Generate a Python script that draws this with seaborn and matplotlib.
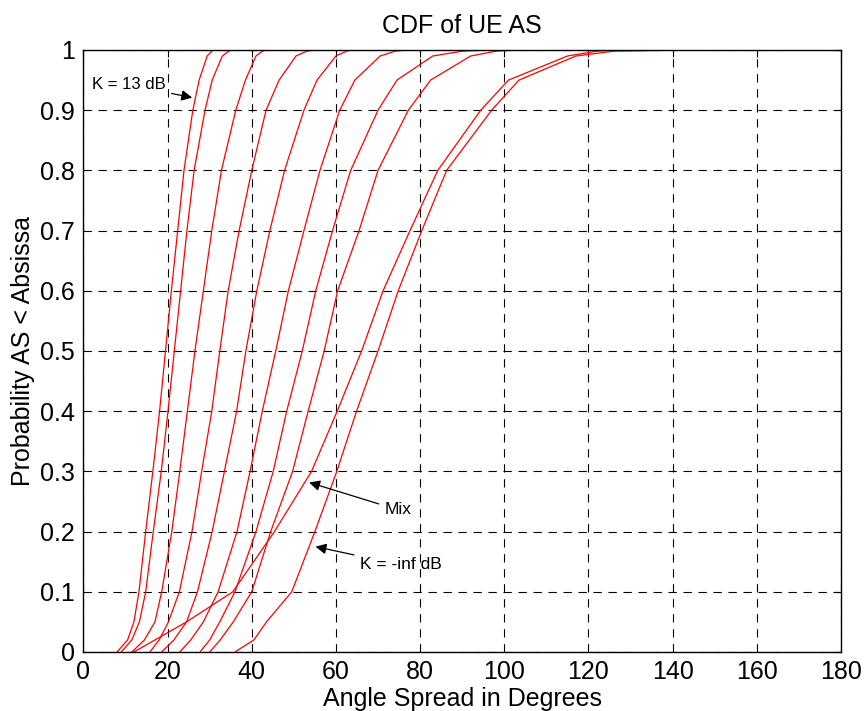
import numpy as np
import pandas as pd
import matplotlib
matplotlib.use("Agg")
import matplotlib.pyplot as plt
import seaborn as sns

levels = [0, 0.02, 0.05, 0.1, 0.2, 0.3, 0.4, 0.5, 0.6, 0.7, 0.8, 0.9, 0.95, 0.99, 0.998, 1.0]

k13 = [8.0, 10.5, 12.0, 13.2, 14.8, 16.5, 18.1, 19.5, 20.9, 22.4, 23.9, 26.0, 27.5, 29.4, 30.5, 31.0]
k2 = [9.0, 11.5, 13.3, 14.8, 16.6, 18.5, 20.1, 21.6, 23.1, 24.6, 26.3, 28.9, 30.6, 33.0, 34.5, 35.5]
k3 = [11.5, 14.5, 17.0, 18.6, 21.0, 22.9, 24.7, 26.5, 28.5, 30.5, 32.8, 36.2, 38.5, 41.0, 42.5, 43.5]
k4 = [15.8, 18.0, 20.2, 22.8, 25.8, 28.1, 30.5, 32.4, 34.4, 37.0, 40.0, 43.4, 46.5, 50.5, 53.0, 55.0]
k5 = [18.6, 21.5, 24.5, 27.1, 30.6, 33.5, 36.4, 38.6, 41.2, 44.3, 47.8, 52.4, 55.5, 60.0, 62.5, 64.0]
k6 = [22.9, 25.5, 28.5, 32.0, 36.5, 39.6, 42.5, 45.7, 48.7, 52.4, 56.2, 60.9, 64.5, 70.5, 74.0, 77.0]
k7 = [27.7, 30.0, 32.4, 36.0, 41.0, 45.1, 48.3, 52.0, 55.2, 59.2, 63.5, 70.0, 74.5, 83.0, 90.0, 96.0]
k8 = [30.0, 32.5, 35.6, 40.0, 44.5, 49.7, 53.4, 57.2, 60.4, 65.5, 70.0, 77.2, 82.5, 92.0, 98.0, 103.0]
mix = [12.0, 17.0, 24.5, 35.5, 45.4, 54.2, 60.3, 66.1, 71.2, 77.6, 84.2, 94.4, 101.0, 115.0, 122.0, 126.0]
kinf = [36.0, 40.5, 43.5, 49.5, 55.0, 60.2, 64.9, 70.0, 74.8, 80.4, 86.3, 97.0, 103.5, 117.0, 126.0, 144.0]

curve_names = ["K = 13 dB", "c2", "c3", "c4", "c5", "c6", "c7", "c8", "Mix", "K = -inf dB"]
curve_values = [k13, k2, k3, k4, k5, k6, k7, k8, mix, kinf]

x_ticks = [0, 20, 40, 60, 80, 100, 120, 140, 160, 180]
y_ticks = [0, 0.1, 0.2, 0.3, 0.4, 0.5, 0.6, 0.7, 0.8, 0.9, 1.0]
y_tick_labels = ["0", "0.1", "0.2", "0.3", "0.4", "0.5", "0.6", "0.7", "0.8", "0.9", "1"]

rows = []
for name, vals in zip(curve_names, curve_values):
    for i, (v, p) in enumerate(zip(vals, levels)):
        rows.append({"curve": name, "order": i, "angle": v, "prob": p})
df = pd.DataFrame(rows)

sns.set_theme(style="white")
plt.rcParams["font.family"] = ["Liberation Sans", "DejaVu Sans"]
plt.rcParams["text.color"] = "black"

fig = plt.figure(figsize=(8.67, 7.11), dpi=100)
ax = fig.add_axes([0.0962, 0.083, 0.8738, 0.8467])

sns.lineplot(data=df, x="angle", y="prob", hue="curve", units="curve",
             estimator=None, sort=False, legend=False,
             palette=["#ff0000"] * len(curve_names), linewidth=0.9, ax=ax)

ax.set_xlim(0, 180)
ax.set_ylim(0, 1)
ax.set_xticks(x_ticks)
ax.set_xticklabels([str(t) for t in x_ticks])
ax.set_yticks(y_ticks)
ax.set_yticklabels(y_tick_labels)
ax.grid(True, color="black", linestyle=(0, (7.5, 6)), linewidth=0.8)
ax.set_axisbelow(True)
for s in ax.spines.values():
    s.set_color("black")
    s.set_linewidth(1.0)
ax.tick_params(direction="in", length=5, width=0.8, colors="black",
               labelsize=18, top=True, right=True, pad=6)

ax.set_title("CDF of UE AS", fontsize=18, color="black", pad=12)
ax.set_xlabel("Angle Spread in Degrees", fontsize=18, color="black", labelpad=2)
ax.set_ylabel("Probability AS < Absissa", fontsize=18, color="black", labelpad=4)

arrow = dict(arrowstyle="-|>", color="black", lw=0.9, mutation_scale=16)
ax.annotate("K = 13 dB", xy=(26.5, 0.92), xytext=(2.0, 0.942), color="black",
            fontsize=12, va="center", ha="left", arrowprops=arrow)
ax.annotate("Mix", xy=(53.0, 0.283), xytext=(71.6, 0.236), color="black",
            fontsize=12.5, va="center", ha="left", arrowprops=arrow)
ax.annotate("K = -inf dB", xy=(54.5, 0.176), xytext=(65.7, 0.1445), color="black",
            fontsize=12.5, va="center", ha="left", arrowprops=arrow)

fig.savefig("out.png", dpi=100)
